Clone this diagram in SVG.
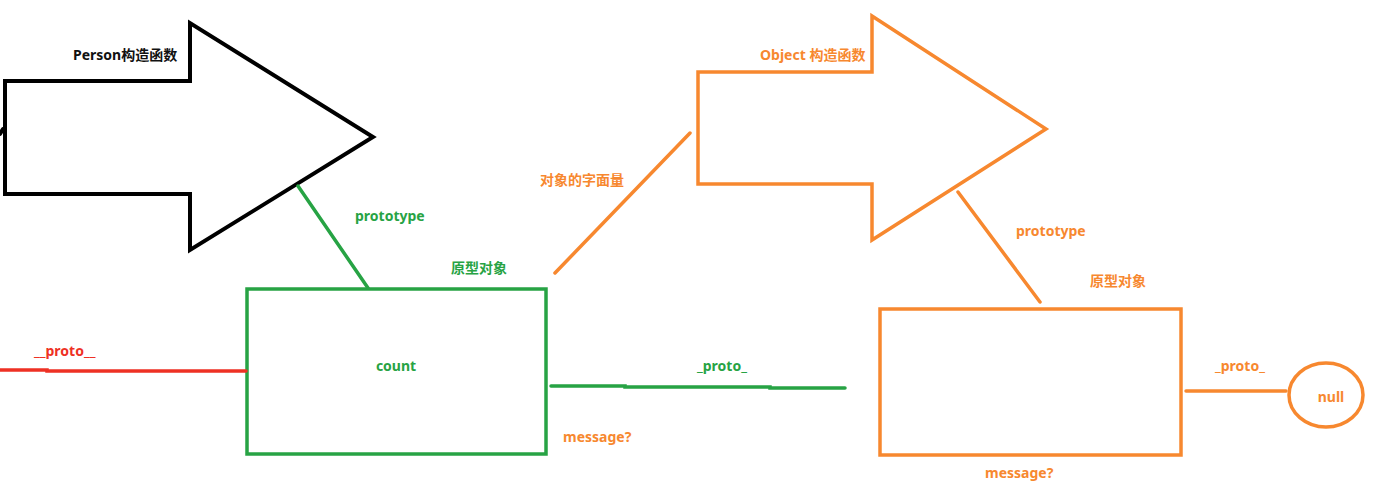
<svg xmlns="http://www.w3.org/2000/svg" width="1396" height="502" viewBox="0 0 1396 502">
<style>
text{font-family:"Noto Sans","Noto Sans CJK SC",sans-serif;font-weight:bold;font-size:14px}
.g{fill:#27a344}.o{fill:#f7882f}.r{fill:#ee3124}.k{fill:#111}
.sg{stroke:#27a344;stroke-width:3.5;fill:none}
.so{stroke:#f7882f;stroke-width:3.5;fill:none}
.sk{stroke:#000;stroke-width:4;fill:none}
.sr{stroke:#ee3124;stroke-width:3.5;fill:none}
</style>
<rect width="1396" height="502" fill="#fff"/>
<g id="person">
<polygon class="sk" points="5,81 190,81 190,23 373,137 190,250 190,194 5,194" stroke-linejoin="miter"/>
<text class="k" x="73" y="60">Person构造函数</text>
</g>
<g id="object">
<polygon class="so" points="698,72 872,72 872,16 1046,129 872,240 872,184 698,184"/>
<text class="o" x="760" y="60">Object 构造函数</text>
</g>
<g id="personProto">
<rect class="sg" x="247" y="289" width="299" height="165"/>
<text class="g" x="396" y="371" text-anchor="middle">count</text>
<text class="g" x="451" y="273">原型对象</text>
</g>
<g id="objectProto">
<rect class="so" x="880" y="309" width="301" height="146"/>
<text class="o" x="1090" y="286">原型对象</text>
</g>
<g id="null">
<ellipse class="so" cx="1326" cy="395" rx="37" ry="32"/>
<text class="o" x="1331" y="402" text-anchor="middle">null</text>
</g>
<g id="connectors" stroke-linecap="round">
<line class="sk" x1="0" y1="134" x2="3" y2="129" stroke-width="2"/>
<line class="sg" x1="298" y1="186" x2="368" y2="288"/>
<polyline class="sr" points="0,370 47,370 47,371 246,371"/>
<line class="so" x1="555" y1="273" x2="690" y2="133"/>
<polyline class="sg" points="551,386 625,386 625,387 770,387 770,388 845,388"/>
<line class="so" x1="958" y1="192" x2="1040" y2="302"/>
<line class="so" x1="1186" y1="391" x2="1286" y2="391"/>
</g>
<g id="labels">
<text class="g" x="355" y="221">prototype</text>
<text class="r" x="34" y="356">__proto__</text>
<text class="o" x="540" y="185">对象的字面量</text>
<text class="g" x="697" y="371">_proto_</text>
<text class="o" x="563" y="442">message?</text>
<text class="o" x="1016" y="236">prototype</text>
<text class="o" x="985" y="478">message?</text>
<text class="o" x="1215" y="371">_proto_</text>
</g>
</svg>
